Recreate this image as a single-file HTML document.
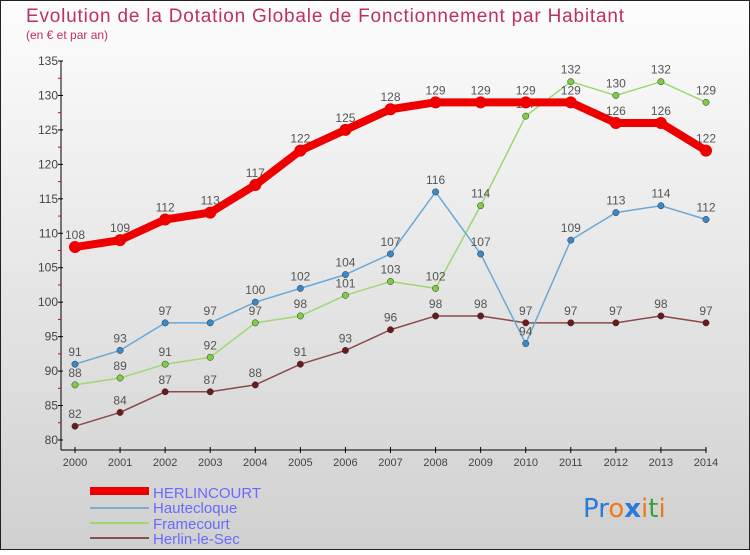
<!DOCTYPE html>
<html><head><meta charset="utf-8"><style>
html,body{margin:0;padding:0}
body{width:750px;height:550px;overflow:hidden;font-family:"Liberation Sans","DejaVu Sans",sans-serif}
</style></head><body>
<svg id="c" width="750" height="550" xmlns="http://www.w3.org/2000/svg">
<defs><linearGradient id="bg" x1="0" y1="0" x2="0" y2="1"><stop offset="0" stop-color="#fdfdfd"/><stop offset="1" stop-color="#d0d0d0"/></linearGradient></defs>
<rect x="0.5" y="0.5" width="749" height="549" fill="url(#bg)" stroke="#222"/>
<text x="26" y="22" font-size="19" fill="#c0305a" textLength="598">Evolution de la Dotation Globale de Fonctionnement par Habitant</text>
<text x="26" y="39" font-size="12" fill="#c0305a">(en € et par an)</text>
<g id="axes"></g><g id="series"></g>
<g>
<rect x="90" y="487" width="59" height="8" fill="#e00"/>
<text x="153" y="498" font-size="15" fill="#6a6aff">HERLINCOURT</text>
<line x1="90" y1="508" x2="149" y2="508" stroke="#7aaed0" stroke-width="2"/>
<text x="153" y="513" font-size="15" fill="#6a6aff">Hautecloque</text>
<line x1="90" y1="523" x2="149" y2="523" stroke="#9ed870" stroke-width="2"/>
<text x="153" y="529" font-size="15" fill="#6a6aff">Framecourt</text>
<line x1="90" y1="538" x2="149" y2="538" stroke="#8a5050" stroke-width="2"/>
<text x="153" y="544" font-size="15" fill="#6a6aff">Herlin-le-Sec</text>
</g>
<text x="583" y="517" font-size="26" font-family="'DejaVu Sans',sans-serif"><tspan fill="#2a7ad8">Pr</tspan><tspan fill="#f07a1a">o</tspan><tspan fill="#2a7ad8" font-weight="bold">x</tspan><tspan fill="#f07a1a">i</tspan><tspan fill="#3aa040">t</tspan><tspan fill="#f07a1a">i</tspan></text>
</svg>
<script>
const years=[2000,2001,2002,2003,2004,2005,2006,2007,2008,2009,2010,2011,2012,2013,2014];
const yTicks=[80,85,90,95,100,105,110,115,120,125,130,135];
const herlincourt=[108,109,112,113,117,122,125,128,129,129,129,129,126,126,122];
const hautecloque=[91,93,97,97,100,102,104,107,116,107,94,109,113,114,112];
const framecourt=[88,89,91,92,97,98,101,103,102,114,127,132,130,132,129];
const herlinLeSec=[82,84,87,87,88,91,93,96,98,98,97,97,97,98,97];
const NS="http://www.w3.org/2000/svg";
const X=i=>75+i*(631/14);
const Y=v=>440-(v-80)*(379/55);
function mk(t,a,p){const e=document.createElementNS(NS,t);for(const k in a)e.setAttribute(k,a[k]);p.appendChild(e);return e;}
const ax=document.getElementById('axes');
let l=mk('line',{x1:61,y1:Y(135),x2:61,y2:450,stroke:'#000','stroke-width':1},ax);


l=mk('line',{x1:61,y1:450,x2:X(14),y2:450,stroke:'#000','stroke-width':1},ax);


yTicks.forEach(v=>{
 mk('line',{x1:58,y1:Y(v),x2:63,y2:Y(v),stroke:'#000'},ax);
 if(v<135)mk('line',{x1:58,y1:Y(v+2.5),x2:61,y2:Y(v+2.5),stroke:'#e00'},ax);
 const t=mk('text',{x:58,y:Y(v)+4,'font-size':12,fill:'#444','text-anchor':'end'},ax);
 t.textContent=v;
 
 
});
years.forEach((y,i)=>{
 mk('line',{x1:X(i),y1:447,x2:X(i),y2:453,stroke:'#000'},ax);
 const t=mk('text',{x:X(i),y:466,'font-size':11,fill:'#444','text-anchor':'middle'},ax);
 t.textContent=y;
 
 
});
const sg=document.getElementById('series');
function series(data,color,w,r,name,dot){
 const g=mk('g',{},sg);
 
 
 const p=mk('polyline',{points:data.map((v,i)=>X(i)+','+Y(v)).join(' '),fill:'none',stroke:color,'stroke-width':w,'stroke-linejoin':'round'},g);
 
 
 data.forEach((v,i)=>{
  const c=mk('circle',{cx:X(i),cy:Y(v),r:r,fill:dot,stroke:'#333','stroke-width':w>3?0:0.5},g);
  
  
  const t=mk('text',{x:X(i),y:Y(v)-8,'font-size':12,fill:'#555','text-anchor':'middle'},g);
  t.textContent=v;
  
  
 });
}
series(herlinLeSec,'#8a4a4a',1.5,3.2,'herlin-le-sec','#6a1a1a');
series(framecourt,'#9ed870',1.5,3.2,'framecourt','#7ccc44');
series(hautecloque,'#6aa8d8',1.5,3.2,'hautecloque','#3a88c8');
series(herlincourt,'#ee0000',8,6,'herlincourt','#ee0000');
</script>
</body></html>
